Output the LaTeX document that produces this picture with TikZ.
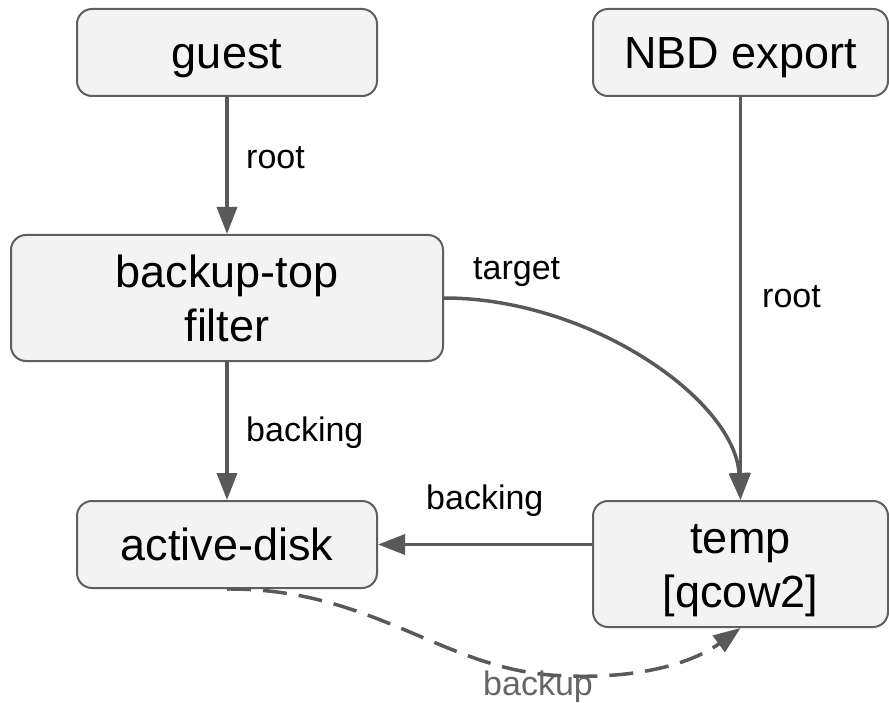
\documentclass[tikz,border=0pt]{standalone}
\usepackage{fontspec}
\setmainfont{Liberation Sans}
\usetikzlibrary{arrows.meta}
\definecolor{edgegrey}{HTML}{595959}
\definecolor{boxfill}{HTML}{F3F3F3}
\definecolor{boxline}{HTML}{5F5F5F}
\definecolor{labelgrey}{HTML}{666666}
\begin{document}
\begin{tikzpicture}[x=1pt,y=-1pt,
  block/.style={draw=boxline, fill=boxfill, line width=2pt, rounded corners=15pt,
    inner sep=0pt, align=center, font=\fontsize{45}{54}\selectfont,
    text height=32.2pt, text depth=0pt},
  twoline/.style={text height=87pt, text depth=0pt},
  link/.style={draw=edgegrey, line width=3.5pt, -{Triangle[length=27pt,width=20pt]}},
  dashlink/.style={link, dash pattern=on 24pt off 12pt},
  lbl/.style={font=\fontsize{34}{40}\selectfont, inner sep=0pt, anchor=base west}]
\useasboundingbox (0,0) rectangle (889,703);

% blocks
\node[block, minimum width=300pt, minimum height=87pt] (guest) at (227,52.5) {guest};
\node[block, minimum width=295pt, minimum height=87pt] (nbd) at (740.5,52.5) {NBD export};
\node[block, twoline, minimum width=432pt, minimum height=126pt] (bt) at (227,298) {backup-top\\filter};
\node[block, minimum width=300pt, minimum height=87pt] (disk) at (227,544.5) {active-disk};
\node[block, twoline, minimum width=295pt, minimum height=126pt] (temp) at (740.5,564) {temp\\{[qcow2]}};

% connectors
\draw[link] (guest) -- (bt);
\draw[link] (bt) -- (disk);
\draw[link] (nbd) -- (temp);
\draw[link] (temp.west |- disk) -- (disk.east);
\draw[link] (bt.east) .. controls (590,298) and (735,400) .. (temp.north);
\draw[dashlink] (disk.south) .. controls (370,588) and (440,666) .. (550,675)
  .. controls (630,681) and (690,665) .. (temp.south);

% connector labels
\node[lbl] (lroot1) at (246,169) {root};
\node[lbl] (lback1) at (246,441) {backing};
\node[lbl] (ltarget) at (473,280) {target};
\node[lbl] (lroot2) at (762,308) {root};
\node[lbl] (lback2) at (426,509) {backing};
\node[lbl, text=labelgrey] (lbackup) at (483,695) {backup};
\end{tikzpicture}
\end{document}
